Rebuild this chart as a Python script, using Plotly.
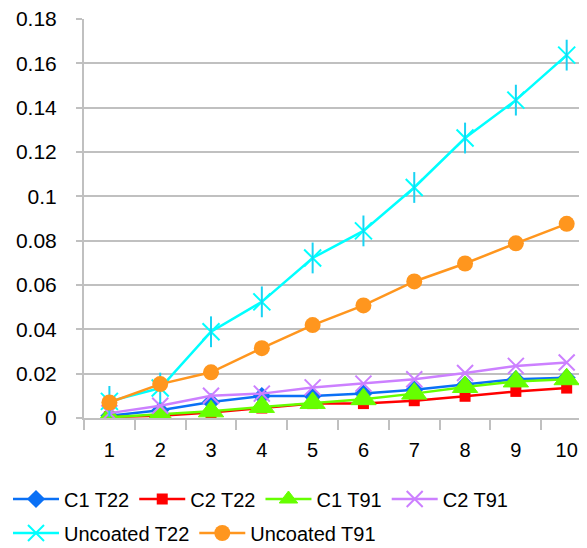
import plotly.graph_objects as go

x_labels = ["1", "2", "3", "4", "5", "6", "7", "8", "9", "10"]

c1_t22 = [0.0010, 0.0035, 0.0072, 0.0099, 0.0099, 0.0110, 0.0128, 0.0150, 0.0175, 0.0182]
c2_t22 = [0.0005, 0.0010, 0.0025, 0.0045, 0.0065, 0.0065, 0.0078, 0.0098, 0.0120, 0.0135]
c1_t91 = [0.0003, 0.0015, 0.0030, 0.0050, 0.0068, 0.0085, 0.0110, 0.0140, 0.0165, 0.0175]
c2_t91 = [0.0022, 0.0055, 0.0100, 0.0110, 0.0138, 0.0155, 0.0175, 0.0203, 0.0235, 0.0250]
unc_t22 = [0.0075, 0.0135, 0.0389, 0.0524, 0.0722, 0.0844, 0.1040, 0.1263, 0.1434, 0.1637]
unc_t91 = [0.0070, 0.0153, 0.0206, 0.0315, 0.0419, 0.0508, 0.0616, 0.0697, 0.0788, 0.0876]

y_ticks = [0, 0.02, 0.04, 0.06, 0.08, 0.1, 0.12, 0.14, 0.16, 0.18]
y_tick_text = ["0", "0.02", "0.04", "0.06", "0.08", "0.1", "0.12", "0.14", "0.16", "0.18"]

FONT = "Liberation Sans, Arial, sans-serif"
GRID = "#c0c0c0"
LW = 2.5
BLUE, RED, GREEN, PURPLE, CYAN, ORANGE = "#0a70f5", "#ff0000", "#66ff00", "#cc80ff", "#00ffff", "#ff961e"

# page is drawn inside a body with an 8px margin -> figure is 8px smaller
W, H = 579, 540

fig = go.Figure()

fig.add_trace(go.Scatter(x=x_labels, y=c1_t22, name="C1 T22", mode="lines+markers", legend="legend",
                         line=dict(color=BLUE, width=LW),
                         marker=dict(symbol="diamond", size=14, color=BLUE)))
fig.add_trace(go.Scatter(x=x_labels, y=c2_t22, name="C2 T22", mode="lines+markers", legend="legend",
                         line=dict(color=RED, width=LW),
                         marker=dict(symbol="square", size=11, color=RED)))
fig.add_trace(go.Scatter(x=x_labels, y=c1_t91, name="C1 T91", mode="lines+markers", legend="legend",
                         line=dict(color=GREEN, width=LW),
                         marker=dict(symbol="triangle-up", size=22, color=GREEN,
                                     line=dict(color=GREEN, width=1))))
fig.add_trace(go.Scatter(x=x_labels, y=c2_t91, name="C2 T91", mode="lines+markers", legend="legend",
                         line=dict(color=PURPLE, width=LW),
                         marker=dict(symbol="x-thin-open", size=16,
                                     line=dict(color=PURPLE, width=2))))
fig.add_trace(go.Scatter(x=x_labels, y=unc_t22, name="Uncoated T22", mode="lines+markers",
                         legend="legend2", legendgroup="ut22",
                         line=dict(color=CYAN, width=LW),
                         marker=dict(symbol="x-thin-open", size=17,
                                     line=dict(color=CYAN, width=2))))
fig.add_trace(go.Scatter(x=x_labels, y=unc_t22, name="Uncoated T22", mode="markers",
                         legend="legend2", legendgroup="ut22", showlegend=False,
                         marker=dict(symbol="line-ns-open", size=22,
                                     line=dict(color=CYAN, width=2))))
fig.add_trace(go.Scatter(x=x_labels, y=unc_t91, name="Uncoated T91", mode="lines+markers",
                         legend="legend2",
                         line=dict(color=ORANGE, width=LW),
                         marker=dict(symbol="circle", size=16, color=ORANGE)))

fig.update_layout(
    width=W, height=H,
    margin=dict(l=76, r=0, t=11, b=130),
    paper_bgcolor="white", plot_bgcolor="white",
    font=dict(family=FONT, size=20, color="#000000"),
    showlegend=True,
    legend=dict(orientation="h", xref="container", yref="container",
                x=0.0, xanchor="left", y=1 - 491 / H, yanchor="middle",
                font=dict(size=20), itemwidth=46, bgcolor="rgba(0,0,0,0)"),
    legend2=dict(orientation="h", xref="container", yref="container",
                 x=0.0, xanchor="left", y=1 - 525 / H, yanchor="middle",
                 font=dict(size=20), itemwidth=46, bgcolor="rgba(0,0,0,0)"),
)

fig.update_xaxes(
    type="category", range=[-0.5, 9.4],
    showgrid=False, showline=True, linecolor=GRID, linewidth=2,
    ticks="outside", tickson="boundaries", ticklen=10, tickwidth=2, tickcolor=GRID,
    ticklabelstandoff=13,
    tickfont=dict(size=20, family=FONT), zeroline=False,
)
fig.update_yaxes(
    range=[0, 0.18], tickvals=y_ticks, ticktext=y_tick_text,
    showgrid=True, gridcolor=GRID, gridwidth=2,
    showline=True, linecolor=GRID, linewidth=2,
    ticks="outside", ticklen=6, tickwidth=2, tickcolor=GRID,
    ticklabelstandoff=15, ticklabeloverflow="allow",
    tickfont=dict(size=21, family=FONT), zeroline=False,
)

fig.write_html("out.html")
